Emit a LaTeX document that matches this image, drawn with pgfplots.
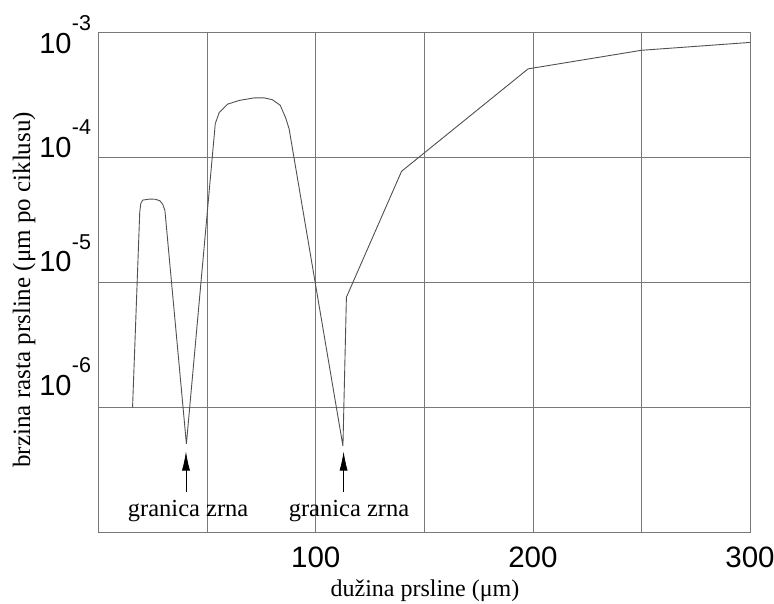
\documentclass[border=0pt]{standalone}
\usepackage{pgfplots}
\pgfplotsset{compat=1.18}
\usepackage{fontspec}
\setmainfont{Liberation Serif}
\newfontfamily\arial{Liberation Sans}
\usetikzlibrary{arrows.meta}
\definecolor{gridc}{RGB}{120,120,120}
\definecolor{curvec}{RGB}{80,80,80}
\newcommand{\tl}[2]{\raisebox{#2}{\arial\fontsize{29}{29}\selectfont 10\kern0.3pt\raisebox{22.5pt}{\fontsize{21.5}{21.5}\selectfont -#1}}}
\begin{document}
\begin{tikzpicture}
\begin{axis}[
  scale only axis,
  width=651.3pt, height=500pt,
  xmin=0, xmax=300,
  ymode=log, log basis y=10,
  ymin=1e-7, ymax=1e-3,
  xtick={0,50,100,150,200,250,300},
  xticklabels={,,100,,200,,300},
  ytick={1e-6,1e-5,1e-4,1e-3},
  yticklabels={\tl{6}{12.3pt},\tl{5}{10.6pt},\tl{4}{0pt},\tl{3}{-20.7pt}},
  major tick length=0pt,
  grid=major,
  grid style={draw=gridc, line width=0.8pt},
  axis line style={draw=gridc, line width=0.8pt},
  xticklabel style={font=\arial\fontsize{29.5}{29.5}\selectfont, anchor=north, inner sep=0pt, yshift=-14.7pt},
  yticklabel style={anchor=base east, inner sep=0pt, xshift=-7.5pt},
  xlabel={dužina prsline (μm)},
  ylabel={brzina rasta prsline (μm po ciklusu)},
  xlabel style={font=\fontsize{24}{24}\selectfont, at={(axis description cs:0.501,-0.116)}, anchor=center},
  ylabel style={font=\fontsize{25}{25}\selectfont, at={(axis description cs:-0.1145,0.485)}, anchor=center},
  clip=false,
]
\addplot[curvec, line width=0.9pt, mark=none] coordinates {
(15.6,1.0e-6)
(18.9,3.63e-5)
(19.4,4.28e-5)
(20.3,4.55e-5)
(23.4,4.63e-5)
(26.1,4.62e-5)
(28.2,4.49e-5)
(29.5,4.21e-5)
(30.5,3.75e-5)
(40.4,5.1e-7)
(53.7,1.86e-4)
(55.5,2.28e-4)
(59.3,2.66e-4)
(64.7,2.85e-4)
(71.6,2.99e-4)
(76.2,2.99e-4)
(80.0,2.89e-4)
(83.6,2.61e-4)
(86.2,2.05e-4)
(87.7,1.69e-4)
(112.5,4.9e-7)
(114.1,7.6e-6)
(139.5,7.73e-5)
(197.8,5.1e-4)
(250,7.18e-4)
(300,8.3e-4)
};
\draw[black, line width=0.7pt, -{Latex[length=19pt,width=8pt]}] (axis cs:40.2,2.1e-7) -- (axis cs:40.2,4.43e-7);
\draw[black, line width=0.7pt, -{Latex[length=19pt,width=8pt]}] (axis cs:112.8,2.1e-7) -- (axis cs:112.8,4.43e-7);
\node[anchor=base, inner sep=0pt, font=\fontsize{24.5}{24.5}\selectfont] at (axis cs:41.2,1.35e-7) {granica zrna};
\node[anchor=base, inner sep=0pt, font=\fontsize{24.5}{24.5}\selectfont] at (axis cs:115.3,1.35e-7) {granica zrna};
\coordinate (bl) at (rel axis cs:0,0);
\coordinate (tr) at (rel axis cs:1,1);
\end{axis}
\pgfresetboundingbox
\path ([shift={(-98.7pt,-71pt)}]bl) rectangle ([shift={(24pt,32.3pt)}]tr);
\end{tikzpicture}
\end{document}
